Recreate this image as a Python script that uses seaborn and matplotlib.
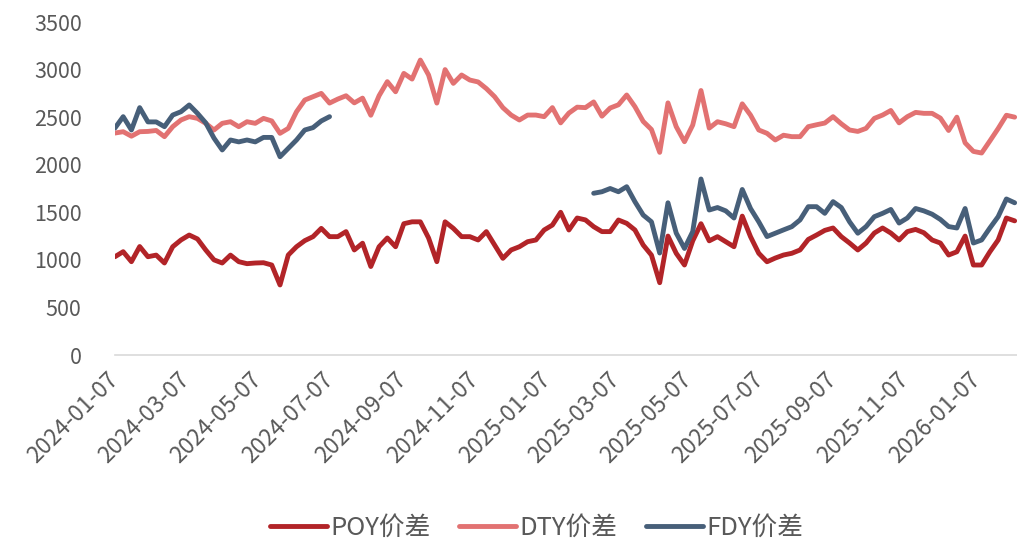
import numpy as np
import pandas as pd
import matplotlib
matplotlib.use("Agg")
import matplotlib.pyplot as plt
import matplotlib.dates as mdates
import seaborn as sns

# ---------------- data ----------------
start_date = "2024-01-07"
n_points = 110  # weekly observations

series_names = ["POY价差", "DTY价差", "FDY价差"]

poy = [1033, 1086, 981, 1140, 1033, 1050, 967, 1138, 1209, 1261,
       1220, 1104, 1000, 967, 1050, 981, 960, 967, 970, 946,
       736, 1051, 1138, 1202, 1244, 1331, 1244, 1244, 1297, 1104,
       1175, 930, 1138, 1230, 1138, 1380, 1400, 1400, 1230, 981,
       1400, 1331, 1244, 1244, 1209, 1297, 1156, 1016, 1104, 1138,
       1191, 1209, 1314, 1366, 1500, 1314, 1440, 1420, 1349, 1297,
       1297, 1419, 1384, 1314, 1156, 1050, 760, 1250, 1069, 946,
       1200, 1380, 1200, 1244, 1191, 1138, 1460, 1244, 1069, 980,
       1019, 1051, 1069, 1104, 1215, 1261, 1310, 1335, 1244, 1177,
       1104, 1177, 1282, 1335, 1282, 1209, 1297, 1320, 1285, 1209,
       1177, 1051, 1085, 1250, 946, 946, 1085, 1209, 1440, 1410]

dty = [2333, 2347, 2300, 2347, 2350, 2360, 2295, 2400, 2470, 2505,
       2487, 2435, 2365, 2435, 2452, 2400, 2452, 2435, 2487, 2460,
       2330, 2382, 2557, 2680, 2715, 2750, 2648, 2690, 2725, 2650,
       2700, 2520, 2725, 2873, 2767, 2960, 2900, 3100, 2943, 2648,
       3000, 2855, 2943, 2890, 2870, 2800, 2715, 2600, 2522, 2470,
       2522, 2522, 2505, 2600, 2440, 2543, 2605, 2600, 2660, 2510,
       2596, 2630, 2733, 2610, 2455, 2370, 2130, 2650, 2400, 2242,
       2417, 2780, 2385, 2452, 2430, 2400, 2640, 2522, 2365, 2330,
       2260, 2310, 2295, 2295, 2400, 2420, 2438, 2505, 2430, 2365,
       2350, 2382, 2487, 2522, 2570, 2440, 2505, 2550, 2540, 2540,
       2490, 2360, 2500, 2230, 2140, 2123, 2250, 2380, 2520, 2500]

nan = np.nan
fdy = [2385, 2505, 2365, 2600, 2450, 2450, 2400, 2522, 2557, 2628,
       2540, 2440, 2280, 2155, 2260, 2240, 2260, 2240, 2287, 2287,
       2084, 2172, 2260, 2365, 2390, 2460, 2505, nan, nan, nan,
       nan, nan, nan, nan, nan, nan, nan, nan, nan, nan,
       nan, nan, nan, nan, nan, nan, nan, nan, nan, nan,
       nan, nan, nan, nan, nan, nan, nan, nan, 1700, 1716,
       1750, 1716, 1769, 1611, 1471, 1400, 1072, 1600, 1282, 1120,
       1297, 1850, 1524, 1550, 1515, 1440, 1740, 1540, 1400, 1245,
       1280, 1315, 1349, 1420, 1559, 1559, 1489, 1612, 1550, 1400,
       1280, 1350, 1454, 1489, 1530, 1387, 1440, 1540, 1515, 1480,
       1425, 1350, 1335, 1540, 1177, 1209, 1335, 1454, 1640, 1600]

tick_dates = ["2024-01-07", "2024-03-07", "2024-05-07", "2024-07-07",
              "2024-09-07", "2024-11-07", "2025-01-07", "2025-03-07",
              "2025-05-07", "2025-07-07", "2025-09-07", "2025-11-07",
              "2026-01-07"]
y_ticks = [0, 500, 1000, 1500, 2000, 2500, 3000, 3500]
x_end = "2026-02-10"

colors = ["#B22428", "#E27272", "#475F79"]

# ---------------- frame ----------------
dates = pd.date_range(start_date, periods=n_points, freq="7D")
wide = pd.DataFrame({"date": dates,
                     series_names[0]: poy,
                     series_names[1]: dty,
                     series_names[2]: fdy})
long = wide.melt(id_vars="date", var_name="series", value_name="value")
# segment id so gaps in a series are not bridged
long["segment"] = long.groupby("series")["value"].transform(lambda s: s.isna().cumsum())
long = long.dropna(subset=["value"])

# ---------------- plot ----------------
sns.set_theme(style="white")
plt.rcParams["font.family"] = ["Noto Sans CJK SC", "DejaVu Sans"]

fig = plt.figure(figsize=(10.17, 5.42), dpi=100)
ax = fig.add_axes([0.113, 0.345, 0.887, 0.6144])

sns.lineplot(data=long, x="date", y="value", hue="series",
             hue_order=series_names, palette=colors, units="segment",
             estimator=None, linewidth=3.5, ax=ax, legend=True)

ax.set_ylim(0, 3500)
ax.set_yticks(y_ticks)
ax.set_xlim(pd.Timestamp(start_date), pd.Timestamp(x_end))
ax.set_xticks(pd.to_datetime(tick_dates))
ax.xaxis.set_major_formatter(mdates.DateFormatter("%Y-%m-%d"))
ax.set_xlabel("")
ax.set_ylabel("")

for s in ["top", "right", "left"]:
    ax.spines[s].set_visible(False)
ax.spines["bottom"].set_color("#d9d9d9")
ax.spines["bottom"].set_linewidth(1.2)

ax.tick_params(axis="x", which="major", direction="out", length=6, width=1.2,
               color="#d9d9d9", labelcolor="#595959", labelsize=16.5, pad=9)
ax.tick_params(axis="y", length=0, labelcolor="#595959", labelsize=15.5, pad=24)
for lab in ax.get_yticklabels():
    lab.set_horizontalalignment("right")
for lab in ax.get_xticklabels():
    lab.set_rotation(45)
    lab.set_horizontalalignment("right")
    lab.set_verticalalignment("center")
    lab.set_rotation_mode("anchor")

handles, labels = ax.get_legend_handles_labels()
ax.get_legend().remove()
fig.legend(handles, labels, loc="center", bbox_to_anchor=(0.528, 0.026),
           ncol=3, frameon=False, handlelength=2.2, columnspacing=1.1,
           handletextpad=0.15, fontsize=18.5, labelcolor="#595959")

fig.savefig("out.png", dpi=100)
